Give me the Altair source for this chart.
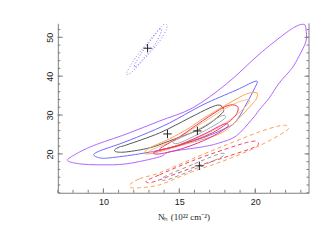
import altair as alt
import pandas as pd

# ---- data ----
purple_x = [7.66, 7.98, 9.30, 11.53, 13.70, 15.86, 18.09, 20.26, 21.90, 22.69, 23.21, 23.34, 23.34, 22.88, 22.42, 21.57, 20.92, 20.26, 19.80, 18.75, 17.63, 16.52, 14.35, 13.70, 11.53, 9.76, 8.44]
purple_y = [18.22, 19.50, 22.06, 25.14, 28.47, 31.81, 37.96, 45.65, 50.78, 52.83, 53.34, 52.06, 48.98, 45.14, 42.06, 38.20, 34.40, 31.30, 28.98, 24.63, 22.83, 21.81, 20.50, 19.24, 17.45, 17.19, 17.45]

blue_x = [9.36, 9.76, 11.07, 12.58, 14.35, 16.52, 18.75, 20.06, 19.93, 19.41, 18.75, 18.09, 16.52, 14.35, 12.38, 10.41, 9.76]
blue_y = [19.75, 20.78, 22.57, 24.88, 27.96, 32.57, 36.42, 38.73, 36.68, 32.83, 28.47, 26.68, 24.11, 21.55, 20.01, 18.98, 18.98]

gray_x = [10.74, 11.07, 11.53, 13.70, 15.66, 16.98, 17.63, 17.90, 17.76, 16.52, 14.35, 13.04, 11.53, 10.87]
gray_y = [21.04, 21.81, 22.32, 25.40, 29.24, 31.81, 32.57, 31.55, 30.27, 26.68, 23.34, 21.55, 20.52, 20.52]

orange_x = [12.71, 13.04, 14.35, 15.66, 16.52, 18.75, 19.60, 20.13, 20.06, 19.80, 18.75, 17.63, 15.47, 14.35, 13.37, 12.84]
orange_y = [20.27, 21.55, 23.86, 26.68, 28.98, 34.11, 35.65, 35.65, 34.11, 32.83, 28.47, 25.14, 22.57, 21.29, 20.27, 20.01]

peach_x = [13.04, 14.68, 16.52, 18.20, 19.30, 19.60, 18.75, 17.17, 15.47, 13.70]
peach_y = [20.78, 23.60, 27.96, 32.06, 33.85, 33.34, 30.00, 25.91, 23.09, 20.78]

red_x = [13.70, 15.01, 16.52, 17.96, 18.62, 18.88, 18.49, 17.17, 15.47, 14.35]
red_y = [21.29, 24.37, 28.47, 32.06, 32.57, 31.55, 28.98, 25.40, 22.83, 21.55]

magenta_x = [13.37, 15.01, 16.65, 17.96, 18.15, 16.98, 15.34, 13.70]
magenta_y = [20.52, 22.32, 25.14, 27.70, 26.93, 24.11, 21.55, 20.00]

lgray_x = [14.68, 16.32, 17.76, 17.96, 16.65, 15.01]
lgray_y = [23.34, 26.42, 29.75, 29.00, 25.91, 22.83]

dot_purple_x = [11.53, 12.05, 12.71, 13.37, 13.89, 14.15, 14.15, 13.70, 13.04, 12.38, 11.79]
dot_purple_y = [40.78, 44.37, 47.70, 50.78, 53.09, 53.34, 52.06, 48.98, 45.91, 43.09, 40.78]

dot_blue_x = [12.05, 12.51, 13.17, 13.70, 13.82, 13.37, 12.71, 12.18]
dot_blue_y = [42.83, 45.91, 49.50, 52.06, 51.55, 47.95, 44.88, 42.57]

dash_orange_x = [11.73, 12.38, 13.70, 15.86, 18.09, 20.26, 21.57, 22.10, 22.03, 20.26, 18.09, 15.86, 13.70, 12.38, 11.86]
dash_orange_y = [12.06, 13.60, 15.14, 18.73, 22.32, 25.65, 27.19, 27.19, 25.91, 22.06, 18.47, 15.40, 12.06, 11.29, 11.29]

dash_red_x = [12.84, 13.70, 15.86, 18.09, 19.60, 20.13, 20.00, 18.09, 15.86, 13.70, 13.04]
dash_red_y = [13.09, 14.63, 18.22, 21.29, 23.09, 23.09, 21.81, 19.24, 16.42, 13.34, 12.58]

dash_gray_x = [14.00, 16.00, 17.63, 17.90, 16.20, 14.20]
dash_gray_y = [14.10, 17.45, 20.00, 19.50, 16.42, 13.34]

cross_x = [12.91, 14.22, 16.19, 16.32]
cross_y = [47.19, 25.14, 25.91, 16.93]

x_major = [10, 15, 20]
x_minor = list(range(7, 24))
y_major = [20, 30, 40, 50]
y_minor = list(range(10, 54, 2))

W, H = 252, 170
AX = "#808080"

xscale = alt.Scale(domain=[7, 23.54], nice=False, zero=False)
yscale = alt.Scale(domain=[10, 53.6], nice=False, zero=False)
xaxis = alt.Axis(values=x_major, ticks=False, grid=False, domainColor=AX, labelPadding=5,
                 labelFont="Liberation Sans", labelFontSize=9, labelColor="#222",
                 title="Nₕ (10²² cm⁻²)", titleFont="Liberation Serif", titleFontSize=9,
                 titleFontWeight="normal", titlePadding=6, titleColor="#222")
yaxis = alt.Axis(values=y_major, ticks=False, grid=False, domainColor=AX, labelPadding=3,
                 labelAngle=270, labelAlign="center", labelBaseline="bottom",
                 labelFont="Liberation Sans", labelFontSize=9, labelColor="#222",
                 title="", minExtent=40, maxExtent=40)


def X(f):
    return alt.X(f, type="quantitative", scale=xscale, axis=xaxis)


def Y(f):
    return alt.Y(f, type="quantitative", scale=yscale, axis=yaxis)


def contour(xs, ys, color, dash=None, width=1.0):
    df = pd.DataFrame({"x": xs, "y": ys, "i": range(len(xs))})
    kw = dict(interpolate="cardinal-closed", clip=True, color=color, strokeWidth=width)
    if dash:
        kw["strokeDash"] = dash
    return alt.Chart(df).mark_line(**kw).encode(x=X("x"), y=Y("y"), order="i:Q")


layers = [
    contour(purple_x, purple_y, "#b066ff"),
    contour(blue_x, blue_y, "#6a6aff"),
    contour(gray_x, gray_y, "#555555"),
    contour(orange_x, orange_y, "#ffa050"),
    contour(peach_x, peach_y, "#ffbb88"),
    contour(magenta_x, magenta_y, "#e0309a"),
    contour(red_x, red_y, "#ee3b55"),
    contour(lgray_x, lgray_y, "#aaaaaa"),
    contour(dot_purple_x, dot_purple_y, "#b070ff", [1, 2]),
    contour(dot_blue_x, dot_blue_y, "#7070ff", [1, 2]),
    contour(dash_orange_x, dash_orange_y, "#ffa050", [4, 3]),
    contour(dash_red_x, dash_red_y, "#ee4060", [4, 3]),
    contour(dash_gray_x, dash_gray_y, "#999999", [4, 3]),
]

cross_df = pd.DataFrame({"x": cross_x, "y": cross_y})
layers.append(
    alt.Chart(cross_df).mark_point(shape="M-1,0L1,0M0,-1L0,1", size=70, filled=False,
                                   stroke="#222", strokeWidth=1, opacity=1)
    .encode(x=X("x"), y=Y("y"))
)


# inward ticks
def xticks(vals, length):
    return alt.Chart(pd.DataFrame({"v": vals})).mark_rule(color=AX, strokeWidth=1).encode(
        x=X("v"), y=alt.value(H), y2=alt.value(H - length))


def yticks(vals, x0, x1):
    return alt.Chart(pd.DataFrame({"v": vals})).mark_rule(color=AX, strokeWidth=1).encode(
        y=Y("v"), x=alt.value(x0), x2=alt.value(x1))


layers += [
    xticks(x_minor, 3), xticks(x_major, 4.5),
    yticks(y_minor, 0, 2.5), yticks(y_major, 0, 5),
    yticks(y_minor, W, W - 2.5), yticks(y_major, W, W - 4.5),
    alt.Chart(pd.DataFrame({"a": [0]})).mark_rule(color=AX, strokeWidth=1).encode(
        x=alt.value(W), y=alt.value(0), y2=alt.value(H)),
]

chart = alt.layer(*layers).properties(
    width=W, height=H,
    padding={"left": 10, "top": 14, "right": 1, "bottom": 10},
).configure_view(strokeWidth=0)

chart.save("out.html", embed_options={"renderer": "svg", "actions": False})
